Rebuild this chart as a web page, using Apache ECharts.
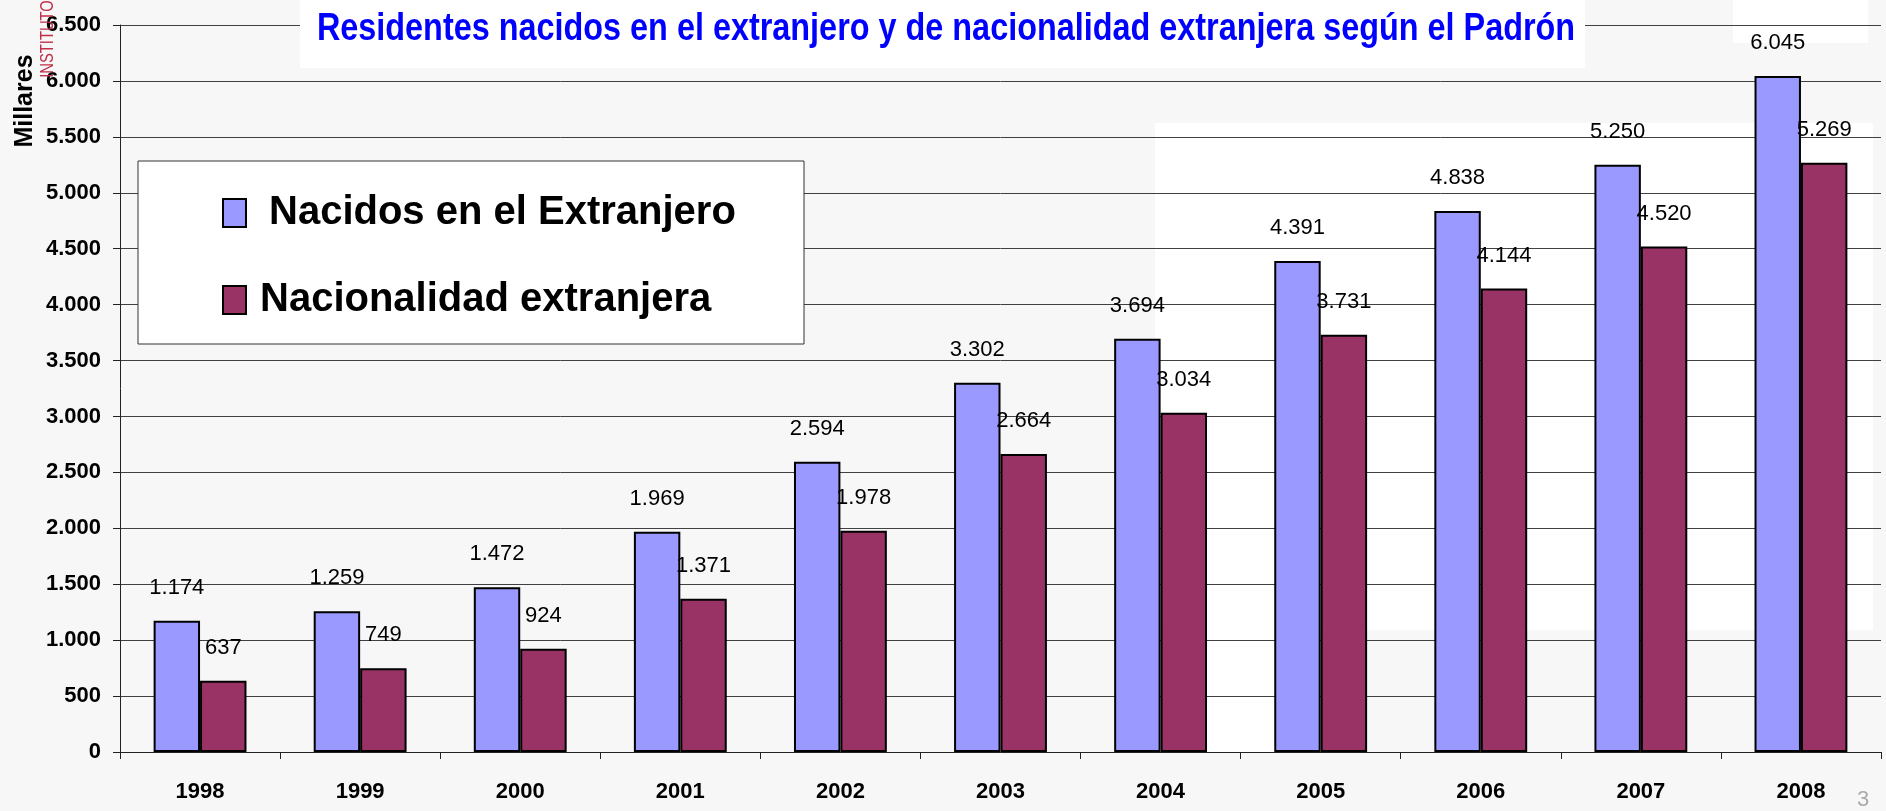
<!DOCTYPE html>
<html><head><meta charset="utf-8">
<script src="https://cdn.jsdelivr.net/npm/echarts@6/dist/echarts.min.js"></script>
<style>html,body{margin:0;padding:0;background:#f7f7f7}#c{width:1886px;height:811px}</style>
</head><body><div id="c"></div>
<script>
const years = ['1998','1999','2000','2001','2002','2003','2004','2005','2006','2007','2008'];
const nacidos = [1174, 1259, 1472, 1969, 2594, 3302, 3694, 4391, 4838, 5250, 6045];
const nacionalidad = [637, 749, 924, 1371, 1978, 2664, 3034, 3731, 4144, 4520, 5269];
const seriesNames = ['Nacidos en el Extranjero', 'Nacionalidad extranjera'];
const titleText = 'Residentes nacidos en el extranjero y de nacionalidad extranjera según el Padrón';
const yAxisName = 'Millares';
const yMin = 0, yMax = 6500, yStep = 500;

const FONT = "'Liberation Sans',Arial,sans-serif";
function fmt(v) {
  v = Math.round(v);
  if (v < 1000) return String(v);
  return Math.floor(v / 1000) + '.' + String(v % 1000).padStart(3, '0');
}

const chart = echarts.init(document.getElementById('c'), null, {renderer: 'canvas'});
const labelStyle = {
  show: true, position: 'top', distance: 22,
  fontFamily: FONT, fontSize: 22, color: '#000',
  formatter: p => fmt(p.value)
};
chart.setOption({
  backgroundColor: '#f7f7f7',
  animation: false,
  legend: {
    orient: 'vertical', left: 217, top: 188, itemGap: 47, itemWidth: 23, itemHeight: 28,
    icon: 'rect', z: 20,
    textStyle: {fontFamily: FONT, fontWeight: 'bold', fontSize: 40, color: '#000'},
    data: [
      {name: seriesNames[0], textStyle: {padding: [0, 0, 0, 18]}},
      {name: seriesNames[1], textStyle: {padding: [0, 0, 0, 9]}}
    ]
  },
  grid: {left: 120, right: 5, top: 25, bottom: 59, containLabel: false},
  xAxis: {
    type: 'category', data: years,
    axisLine: {lineStyle: {color: '#222', width: 1}},
    axisTick: {show: true, length: 7, lineStyle: {color: '#222'}},
    axisLabel: {fontFamily: FONT, fontWeight: 'bold', fontSize: 22, color: '#000', margin: 29}
  },
  yAxis: {
    type: 'value', min: yMin, max: yMax, interval: yStep,
    axisLine: {show: true, lineStyle: {color: '#222', width: 1}},
    axisTick: {show: true, length: 7, lineStyle: {color: '#222'}},
    splitLine: {lineStyle: {color: '#404040', width: 1}},
    axisLabel: {fontFamily: FONT, fontWeight: 'bold', fontSize: 22, color: '#000', margin: 19, formatter: v => fmt(v)}
  },
  graphic: [
    {type: 'rect', z: -10, silent: true, shape: {x: 1155, y: 123, width: 718, height: 507}, style: {fill: '#ffffff'}},
    {type: 'rect', z: -10, silent: true, shape: {x: 1207, y: 600, width: 85, height: 152}, style: {fill: '#ffffff'}},
    {type: 'rect', z: -10, silent: true, shape: {x: 1733, y: 0, width: 135, height: 43}, style: {fill: '#ffffff'}},
    {type: 'rect', z: 15, silent: true, shape: {x: 300, y: 0, width: 1285, height: 68}, style: {fill: '#ffffff'}},
    {type: 'rect', z: 15, silent: true, shape: {x: 138, y: 161, width: 666, height: 183}, style: {fill: '#ffffff', stroke: '#333', lineWidth: 1}},
    {type: 'text', z: 20, x: 946, y: 29, scaleX: 0.82,
      style: {text: titleText, font: "bold 39.5px " + FONT, fill: '#0000ff', textAlign: 'center', textVerticalAlign: 'middle'}},
    {type: 'text', z: 20, x: 25, y: 101, rotation: Math.PI / 2,
      style: {text: yAxisName, font: "bold 25px " + FONT, fill: '#000', textAlign: 'center', textVerticalAlign: 'middle'}},
    {type: 'text', z: 20, x: 48, y: 39, rotation: Math.PI / 2, scaleX: 0.82,
      style: {text: 'INSTITUTO', font: "18px " + FONT, fill: '#c0304a', textAlign: 'center', textVerticalAlign: 'middle'}},
    {type: 'text', z: 20, x: 1863, y: 800,
      style: {text: '3', font: "22px " + FONT, fill: '#aaaaaa', textAlign: 'center', textVerticalAlign: 'middle'}}
  ],
  series: [
    {name: seriesNames[0], type: 'bar', data: nacidos, barGap: '0%', barCategoryGap: '42%',
      itemStyle: {color: '#9999ff', borderColor: '#000', borderWidth: 2}, label: labelStyle},
    {name: seriesNames[1], type: 'bar', data: nacionalidad, barGap: '0%', barCategoryGap: '42%',
      itemStyle: {color: '#993366', borderColor: '#000', borderWidth: 2}, label: labelStyle}
  ]
});
</script></body></html>
